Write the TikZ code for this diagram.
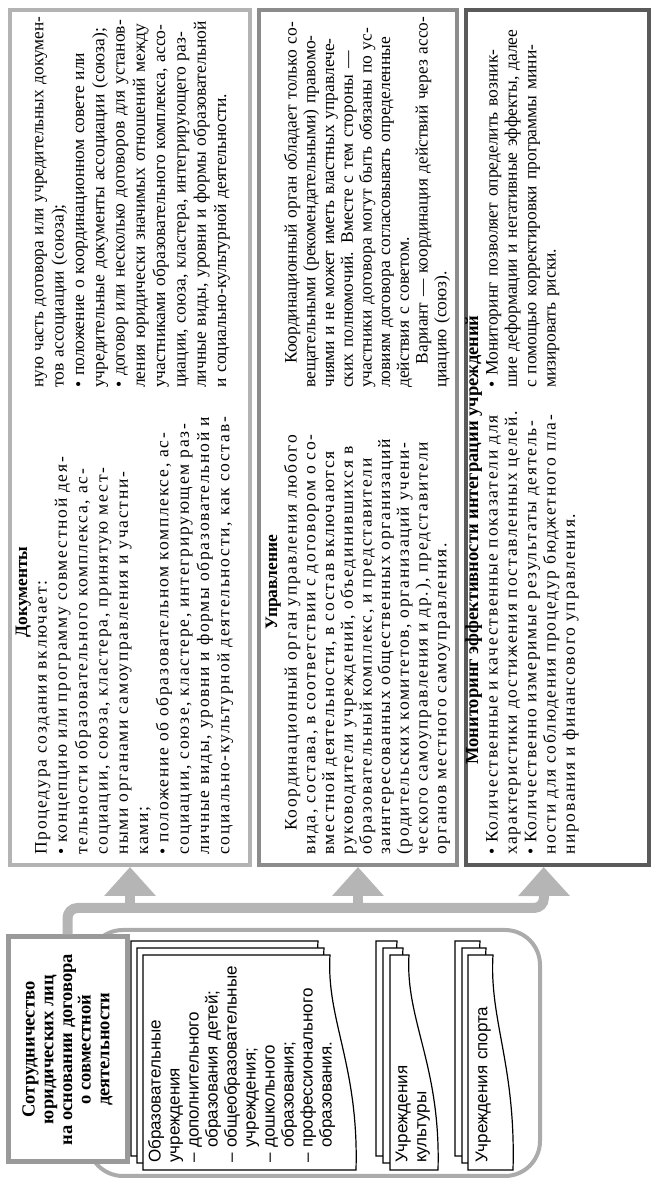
\documentclass[tikz,border=0pt]{standalone}
\usepackage{fontspec}
\setmainfont{Liberation Serif}
\newfontfamily\widefont[LetterSpace=10]{Liberation Serif}
\newfontfamily\cardfont{Liberation Sans}
\usepackage{graphicx}
\usetikzlibrary{arrows.meta,calc}
\definecolor{gA}{HTML}{B3B3B3}
\definecolor{gB}{HTML}{8C8C8C}
\definecolor{gC}{HTML}{5A5A5A}
\definecolor{gT}{HTML}{9A9A9A}
\definecolor{gR}{HTML}{ABABAB}
\definecolor{gArr}{HTML}{B5B5B5}
\newsavebox\mylinebox
\newdimen\mylinewd
\newcommand\myfit[2]{\sbox\mylinebox{#2}\mylinewd=\wd\mylinebox
  \ifdim\mylinewd>\hsize
    \pgfmathsetmacro\myratio{\hsize/\mylinewd}%
    \hbox to\hsize{\scalebox{\myratio}[1]{\usebox\mylinebox}\hss}%
  \else
    \hbox to\hsize{#2#1}%
  \fi}
\newcommand\myJ[1]{\myfit{}{#1}}
\newcommand\myE[1]{\myfit{\hfil}{#1}}
\newcommand\myI[1]{\myfit{}{\hspace*{24pt}#1}}
\newcommand\docsheet[5]{%
  \draw[sheet] (#1,#2) -- ({#1+#3},#2) -- ({#1+#3},#4)
    .. controls ({#1+#3-65},{#4-4}) and ({#1+#3-110},{#5+3}) .. (#1,#5) -- cycle;}
\tikzset{
  boxA/.style={draw=gA, line width=4pt, minimum width=855pt, inner sep=0pt},
  boxB/.style={draw=gB, line width=4pt, minimum width=855pt, inner sep=0pt},
  boxC/.style={draw=gC, line width=4pt, minimum width=855pt, inner sep=0pt},
  head/.style={inner sep=0pt, font=\fontsize{17.5pt}{20pt}\selectfont\bfseries},
  colL/.style={inner sep=0pt, text width=457pt},
  colR/.style={inner sep=0pt, text width=371pt},
  spA/.style={font=\fontsize{17.5pt}{20.3pt}\selectfont},
  spB/.style={font=\fontsize{17.5pt}{18.7pt}\selectfont},
  spC/.style={font=\fontsize{17.5pt}{19.3pt}\selectfont},
  wA/.style={font=\widefont\fontsize{17.5pt}{20.3pt}\selectfont},
  wB/.style={font=\widefont\fontsize{17.5pt}{18.7pt}\selectfont},
  wC/.style={font=\widefont\fontsize{17.5pt}{19.3pt}\selectfont},
  titlebox/.style={draw=gT, line width=5pt, fill=white, minimum width=225pt,
    minimum height=119pt, align=center, inner sep=0pt,
    font=\fontsize{18.5pt}{18.7pt}\selectfont\bfseries},
  groupbox/.style={draw=gR, line width=4pt, rounded corners=35pt, inner sep=0pt},
  sheet/.style={draw=black, line width=1.2pt, fill=white},
  cardtext/.style={inner sep=0pt, text width=210pt, align=left,
    font=\cardfont\fontsize{17pt}{19pt}\selectfont},
  trunk/.style={draw=gArr, line width=10pt, rounded corners=10pt,
    -{Triangle[width=50pt,length=29pt]}}
}
\begin{document}
\begin{tikzpicture}
\useasboundingbox (0,0) rectangle (656pt,1180pt);
\begin{scope}[rotate=90, x=1pt, y=-1pt, transform shape]
  % group frame
  \node[groupbox, minimum width=246pt, minimum height=452pt] (grp) at (127,314) {};
  % card 1
  \docsheet{24}{131}{215}{318}{343}
  \docsheet{17}{137}{215}{324}{349}
  \docsheet{10}{143}{215}{330}{356}
  \node[cardtext, anchor=north west] (card1) at (17,148) {Образовательные\\
    учреждения\\
    – дополнительного\\
    \phantom{– }образования детей;\\
    – общеобразовательные\\
    \phantom{– }учреждения;\\
    – дошкольного\\
    \phantom{– }образования;\\
    – профессионального\\
    \phantom{– }образования.};
  % card 2
  \docsheet{24}{376}{215}{397}{426}
  \docsheet{17}{383}{215}{403}{432}
  \docsheet{10}{390}{215}{409}{438}
  \node[cardtext, anchor=north west] (card2) at (17,395.5) {Учреждения\\ культуры};
  % card 3
  \docsheet{24}{455}{215}{480}{499}
  \docsheet{17}{462}{215}{486}{506}
  \docsheet{10}{468}{215}{493}{513}
  \node[cardtext, anchor=north west] (card3) at (17,475.5) {Учреждения спорта};
  % title
  \node[titlebox] (title) at (130.5,67.5) {Сотрудничество\\ юридических лиц\\ на основании договора\\ о совместной\\ деятельности};
  % top boxes
  \node[boxA, minimum height=240pt] (b1) at (742.5,130) {};
  \node[boxB, minimum height=198pt] (b2) at (742.5,358) {};
  \node[boxC, minimum height=183pt] (b3) at (742.5,557.5) {};
  % connectors
  \coordinate (j0) at (272,67.5);
  \coordinate (j1) at (272,130);
  \coordinate (j2) at (272,358);
  \coordinate (j3) at (272,544);
  \draw[trunk] (title.east) -- (j0) -- (j3) -- ($(b3.north west)!0.426!(b3.south west)$);
  \draw[trunk] (j1) -- (b1.west);
  \draw[trunk] (j2) -- (b2.west);
  % box 1 text
  \node[head, anchor=base] (h1) at (588,27) {Документы};
  \node[colL, wA, anchor=north west] (c1l) at (325,35) {%
    \myE{Процедура создания включает:}
    \myJ{• концепцию или программу совместной дея-}
    \myJ{тельности образовательного комплекса, ас-}
    \myJ{социации, союза, кластера, принятую мест-}
    \myJ{ными органами самоуправления и участни-}
    \myE{ками;}
    \myJ{• положение об образовательном комплексе, ас-}
    \myJ{социации, союзе, кластере, интегрирующем раз-}
    \myJ{личные виды, уровни и формы образовательной и}
    \myJ{социально-культурной деятельности, как состав-}};
  \node[colR, spA, anchor=north west] (c1r) at (792,35) {%
    \myJ{ную часть договора или учредительных докумен-}
    \myE{тов ассоциации (союза);}
    \myJ{• положение о координационном совете или}
    \myJ{учредительные документы ассоциации (союза);}
    \myJ{• договор или несколько договоров для установ-}
    \myJ{ления юридически значимых отношений между}
    \myJ{участниками образовательного комплекса, ассо-}
    \myJ{циации, союза, кластера, интегрирующего раз-}
    \myJ{личные виды, уровни и формы образовательной}
    \myE{и социально-культурной деятельности.}};
  % box 2 text
  \node[head, anchor=base] (h2) at (598,277) {Управление};
  \node[colL, wB, anchor=north west] (c2l) at (325,284) {%
    \myI{Координационный орган управления любого}
    \myJ{вида, состава, в соответствии с договором о со-}
    \myJ{вместной деятельности, в состав включаются}
    \myJ{руководители учреждений, объединившихся в}
    \myJ{образовательный комплекс, и представители}
    \myJ{заинтересованных общественных организаций}
    \myJ{(родительских комитетов, организаций учени-}
    \myJ{ческого самоуправления и др.), представители}
    \myE{органов местного самоуправления.}};
  \node[colR, spB, anchor=north west] (c2r) at (792,284) {%
    \myI{Координационный орган обладает только со-}
    \myJ{вещательными (рекомендательными) правомо-}
    \myJ{чиями и не может иметь властных управлече-}
    \myJ{ских полномочий. Вместе с тем стороны —}
    \myJ{участники договора могут быть обязаны по ус-}
    \myJ{ловиям договора согласовывать определенные}
    \myE{действия с советом.}
    \myI{Вариант — координация действий через ассо-}
    \myE{циацию (союз).}};
  % box 3 text
  \node[head, anchor=base, font=\fontsize{18.5pt}{20pt}\selectfont\bfseries] (h3) at (640,478) {Мониторинг эффективности интеграции учреждений};
  \node[colL, wC, anchor=north west] (c3l) at (325,486) {%
    \myJ{• Количественные и качественные показатели для}
    \myJ{характеристики достижения поставленных целей.}
    \myJ{• Количественно измеримые результаты деятель-}
    \myJ{ности для соблюдения процедур бюджетного пла-}
    \myE{нирования и финансового управления.}};
  \node[colR, spC, anchor=north west] (c3r) at (792,486) {%
    \myJ{• Мониторинг позволяет определить возник-}
    \myJ{шие деформации и негативные эффекты, далее}
    \myJ{с помощью корректировки программы мини-}
    \myE{мизировать риски.}};
\end{scope}
\end{tikzpicture}
\end{document}
